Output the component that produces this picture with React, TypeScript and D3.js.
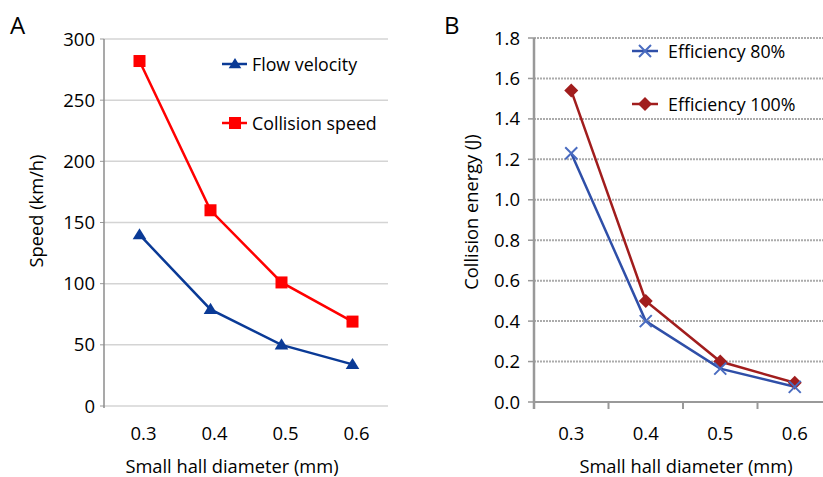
import * as d3 from "d3";

const diameters = ["0.3", "0.4", "0.5", "0.6"];

const flowVelocity = [140, 79, 50, 34];
const collisionSpeed = [282, 160, 101, 69];
const speedTicks = [0, 50, 100, 150, 200, 250, 300];

const efficiency80 = [1.23, 0.4, 0.165, 0.075];
const efficiency100 = [1.54, 0.5, 0.2, 0.095];
const energyTicks = [0, 0.2, 0.4, 0.6, 0.8, 1.0, 1.2, 1.4, 1.6, 1.8];

const W = 823;
const H = 477;
const font = "'Open Sans', 'DejaVu Sans', sans-serif";

function triangle(x: number, y: number, r: number) {
  return `M${x},${y - r}L${x + r * 1.05},${y + r * 0.7}L${x - r * 1.05},${y + r * 0.7}Z`;
}
function diamond(x: number, y: number, r: number) {
  return `M${x},${y - r}L${x + r},${y}L${x},${y + r}L${x - r},${y}Z`;
}

function PanelA() {
  const x = d3.scaleBand().domain(diameters).range([104, 388]);
  const y = d3.scaleLinear().domain([0, 300]).range([406, 39]);
  const cx = (d: string) => (x(d) ?? 0) + x.bandwidth() / 2;
  const line = d3
    .line<number>()
    .x((_, i) => cx(diameters[i]))
    .y((v) => y(v));

  return (
    <g fontFamily={font} fill="#000">
      <text x={10} y={34} fontSize="24">A</text>
      {speedTicks.map((t) => (
        <g key={t}>
          <line x1={104} x2={388} y1={y(t)} y2={y(t)} stroke="#d4d4d4" strokeWidth={1.5} />
          <line x1={100} x2={104} y1={y(t)} y2={y(t)} stroke="#999" strokeWidth={1} />
          <text x={95} y={y(t) + 6.5} fontSize="18.5" textAnchor="end">{t}</text>
        </g>
      ))}
      <line x1={104} x2={104} y1={39} y2={408} stroke="#8c8c8c" strokeWidth={1.5} />
      {diameters.map((d) => (
        <text key={d} x={cx(d) + 4} y={440} fontSize="18.5" textAnchor="middle">{d}</text>
      ))}
      <text x={232} y={473} fontSize="18.3" textAnchor="middle">Small hall diameter (mm)</text>
      <text transform="translate(43,211) rotate(-90)" fontSize="18.3" textAnchor="middle">Speed (km/h)</text>

      <path d={line(collisionSpeed) ?? ""} fill="none" stroke="#ff0000" strokeWidth={2.5} />
      <path d={line(flowVelocity) ?? ""} fill="none" stroke="#0a3a96" strokeWidth={2.5} />
      {collisionSpeed.map((v, i) => (
        <rect key={i} x={cx(diameters[i]) - 6} y={y(v) - 6} width={12} height={12} fill="#ff0000" />
      ))}
      {flowVelocity.map((v, i) => (
        <path key={i} d={triangle(cx(diameters[i]), y(v), 6.5)} fill="#0a3a96" />
      ))}

      <line x1={222} x2={247} y1={64} y2={64} stroke="#0a3a96" strokeWidth={2.5} />
      <path d={triangle(235, 64, 6)} fill="#0a3a96" />
      <text x={252} y={70.5} fontSize="17.8">Flow velocity</text>
      <line x1={222} x2={247} y1={123} y2={123} stroke="#ff0000" strokeWidth={2.5} />
      <rect x={229} y={117} width={12} height={12} fill="#ff0000" />
      <text x={252} y={129.5} fontSize="17.8">Collision speed</text>
    </g>
  );
}

function PanelB() {
  const x = d3.scaleBand().domain(diameters).range([534, 832]);
  const y = d3.scaleLinear().domain([0, 1.8]).range([402, 38]);
  const cx = (d: string) => (x(d) ?? 0) + x.bandwidth() / 2;
  const line = d3
    .line<number>()
    .x((_, i) => cx(diameters[i]))
    .y((v) => y(v));
  const blue = "#2f4fa8";
  const red = "#a11d1d";

  return (
    <g fontFamily={font} fill="#000">
      <text x={444} y={34} fontSize="24">B</text>
      {energyTicks.map((t) => (
        <g key={t}>
          {t > 0 && (
            <line x1={534} x2={W} y1={y(t)} y2={y(t)} stroke="#ababab" strokeWidth={2} strokeDasharray="2,1" />
          )}
          <line x1={528} x2={534} y1={y(t)} y2={y(t)} stroke="#999" strokeWidth={1.5} />
          <text x={520} y={y(t) + 6.5} fontSize="18.5" textAnchor="end">{t.toFixed(1)}</text>
        </g>
      ))}
      <line x1={534} x2={W} y1={y(0)} y2={y(0)} stroke="#999" strokeWidth={2} />
      {diameters.map((d) => (
        <line key={d} x1={x(d) ?? 0} x2={x(d) ?? 0} y1={y(0)} y2={y(0) + 7} stroke="#999" strokeWidth={2} />
      ))}
      <line x1={534} x2={534} y1={38} y2={y(0) + 7} stroke="#999" strokeWidth={2.5} />
      {diameters.map((d) => (
        <text key={d} x={cx(d)} y={440} fontSize="18.5" textAnchor="middle">{d}</text>
      ))}
      <text x={686} y={473} fontSize="18.3" textAnchor="middle">Small hall diameter (mm)</text>
      <text transform="translate(478,212) rotate(-90)" fontSize="18.3" textAnchor="middle">Collision energy (J)</text>

      <path d={line(efficiency100) ?? ""} fill="none" stroke={red} strokeWidth={2.5} />
      <path d={line(efficiency80) ?? ""} fill="none" stroke={blue} strokeWidth={2.5} />
      {efficiency100.map((v, i) => (
        <path key={i} d={diamond(cx(diameters[i]), y(v), 7)} fill={red} />
      ))}
      {efficiency80.map((v, i) => {
        const px = cx(diameters[i]);
        const py = y(v);
        return (
          <path key={i} d={`M${px - 6},${py - 6}L${px + 6},${py + 6}M${px - 6},${py + 6}L${px + 6},${py - 6}`} stroke="#4a6cc0" strokeWidth={2} />
        );
      })}

      <line x1={632} x2={658} y1={51} y2={51} stroke={blue} strokeWidth={2.5} />
      <path d="M639,45L651,57M639,57L651,45" stroke="#4a6cc0" strokeWidth={2} />
      <text x={668} y={57.5} fontSize="17.8">Efficiency 80%</text>
      <line x1={632} x2={658} y1={104} y2={104} stroke={red} strokeWidth={2.5} />
      <path d={diamond(645, 104, 7)} fill={red} />
      <text x={668} y={110.5} fontSize="17.8">Efficiency 100%</text>
    </g>
  );
}

export default function App() {
  return (
    <svg
      width={W}
      height={H}
      viewBox={`0 0 ${W} ${H}`}
      style={{ position: "absolute", left: 0, top: 0, background: "#fff" }}
    >
      <rect width={W} height={H} fill="#fff" />
      <PanelA />
      <PanelB />
    </svg>
  );
}
